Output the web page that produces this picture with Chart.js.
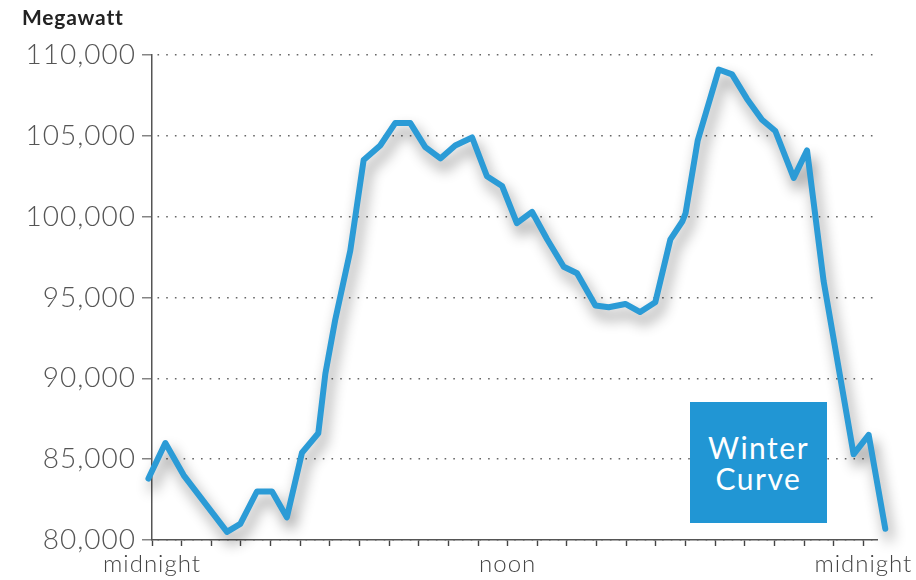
<!DOCTYPE html>
<html>
<head>
<meta charset="utf-8">
<title>Winter Curve</title>
<script src="https://cdn.jsdelivr.net/npm/chart.js@4/dist/chart.umd.min.js"></script>
<style>
  html, body { margin:0; padding:0; background:#fff; }
  #wrap { position:relative; width:916px; height:580px; }
  #title { position:absolute; left:22px; top:4px; font:700 21px Lato, sans-serif; color:#222; letter-spacing:0.8px; }
  #badge { position:absolute; left:690px; top:402px; width:137px; height:121px; background:#2196d4;
           color:#fff; font:400 30px Lato, sans-serif; letter-spacing:1.5px; line-height:31px;
           display:flex; align-items:center; justify-content:center; text-align:center; }
</style>
</head>
<body>
<div id="wrap">
  <canvas id="chart" width="916" height="580"></canvas>
  <div id="title">Megawatt</div>
  <div id="badge">Winter<br>Curve</div>
</div>
<script>
/* ====== DATA ====== */
const hours = [-0.12, 0.45, 1.07, 2.53, 2.98, 3.54, 4.05, 4.55, 5.06, 5.61, 5.85, 6.18, 6.69,
  7.14, 7.70, 8.21, 8.71, 9.22, 9.73, 10.23, 10.80, 11.30, 11.81, 12.31, 12.82, 13.33, 13.89,
  14.34, 14.96, 15.41, 15.97, 16.47, 16.98, 17.49, 17.89, 18.00, 18.41, 19.12, 19.57, 20.07,
  20.58, 21.03, 21.65, 22.10, 22.66, 23.67, 24.18, 24.74];
const megawatts = [83800, 86000, 84000, 80500, 81000, 83000, 83000, 81400, 85400, 86600, 90300,
  93600, 97900, 103500, 104400, 105800, 105800, 104300, 103600, 104400, 104900, 102500, 101900,
  99600, 100300, 98600, 96900, 96500, 94500, 94400, 94600, 94100, 94700, 98600, 99700, 100200,
  104700, 109100, 108800, 107300, 106000, 105300, 102400, 104100, 96000, 85300, 86500, 80700];
const xLabels = { 0: "midnight", 12: "noon", 24: "midnight" };
const yMin = 80000, yMax = 110000, yStep = 5000;

/* ====== PLUGINS ====== */
// soft grey drop shadow under the curve
const lineShadow = {
  id: "lineShadow",
  beforeDatasetDraw(chart){
    const c = chart.ctx; c.save();
    c.shadowColor = "rgba(0,0,0,0.45)"; c.shadowBlur = 14; c.shadowOffsetX = 4; c.shadowOffsetY = 9;
  },
  afterDatasetDraw(chart){ chart.ctx.restore(); }
};
const wideText = { id: "wideText", beforeDraw(chart){ chart.ctx.letterSpacing = "1px"; } };

/* ====== CHART ====== */
new Chart(document.getElementById("chart"), {
  type: "line",
  data: {
    datasets: [{
      data: hours.map((h, i) => ({ x: h, y: megawatts[i] })),
      borderColor: "#2b9bd6", borderWidth: 6, pointRadius: 0, tension: 0,
      borderJoinStyle: "round", borderCapStyle: "round", clip: false
    }]
  },
  options: {
    responsive: false, animation: false,
    layout: { padding: { top: 55, right: 39, left: 0, bottom: 0 } },
    plugins: { legend: { display: false }, tooltip: { enabled: false } },
    scales: {
      x: {
        type: "linear", min: 0, max: 24.46,
        afterFit: s => { s.height = 40; },
        ticks: {
          stepSize: 1, autoSkip: false, includeBounds: false, maxRotation: 0, padding: 4,
          color: "#444", font: { family: "Lato", weight: "300", size: 24 },
          callback: v => xLabels[v] || ""
        },
        grid: { drawOnChartArea: false, tickLength: 6, tickColor: "#444", tickWidth: 1.4 },
        border: { color: "#555", width: 1.5 }
      },
      y: {
        min: yMin, max: yMax,
        afterFit: s => { s.width = 152; },
        ticks: {
          stepSize: yStep, padding: 6, color: "#555",
          font: { family: "Lato", weight: "300", size: 28 },
          callback: v => v.toLocaleString("en-US")
        },
        grid: { color: "#666", lineWidth: 1.6, tickLength: 10, tickColor: "#666", tickWidth: 1.2 },
        border: { color: "#555", width: 1.5, dash: [1.6, 7.1], dashOffset: -5 }
      }
    }
  },
  plugins: [lineShadow, wideText]
});
</script>
</body>
</html>
